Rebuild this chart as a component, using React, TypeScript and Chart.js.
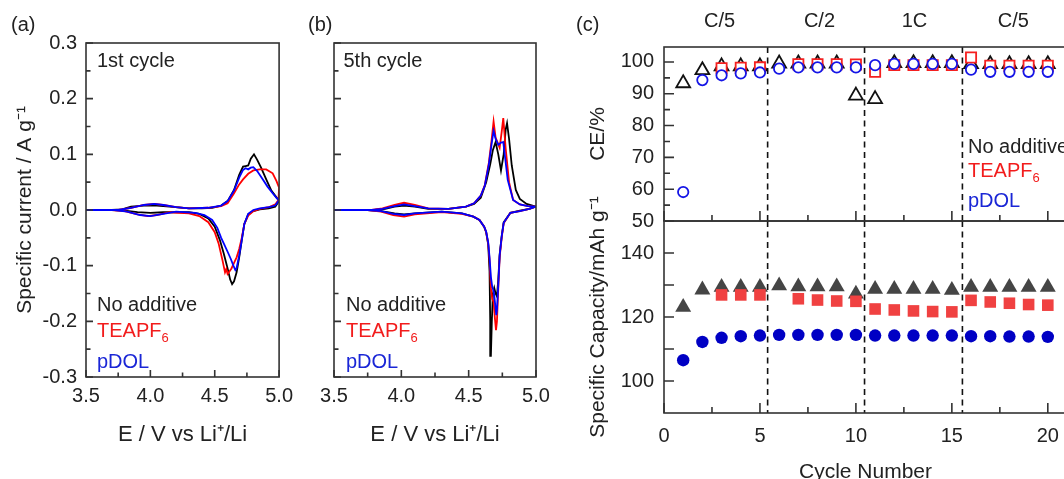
import React, { useEffect, useRef } from "react";
import { Chart, registerables } from "chart.js";

Chart.register(...registerables);

const FONT = '"Liberation Sans", Arial, Helvetica, sans-serif';
Chart.defaults.font.family = FONT;

const INK = "#222222";
const CV_BLACK = "#000000";
const CV_RED = "#ff0000";
const CV_BLUE = "#0000ff";
const TXT_RED = "#f21c1c";
const TXT_BLUE = "#1a26d6";

// ---------- Panel (a): 1st cycle CV  [E (V vs Li+/Li), I (A/g)], anodic sweep then cathodic sweep
const cv1NoAdditive: [number, number][] = [
  [3.5, 0], [3.7, 0], [3.78, 0.001], [3.85, 0.006], [3.95, 0.008], [4.05, 0.008], [4.15, 0.006], [4.3, 0.003],
  [4.4, 0.003], [4.48, 0.004], [4.55, 0.008], [4.6, 0.016], [4.65, 0.036], [4.69, 0.063], [4.72, 0.078], [4.74, 0.079],
  [4.76, 0.08], [4.78, 0.092], [4.805, 0.1], [4.83, 0.09], [4.86, 0.076], [4.9, 0.055], [4.94, 0.035], [4.975, 0.024], [5.0, 0.016],
  [4.97, 0.006], [4.92, 0.003], [4.85, 0.001], [4.8, -0.002], [4.76, -0.008], [4.73, -0.025], [4.71, -0.054], [4.69, -0.085],
  [4.67, -0.112], [4.65, -0.128], [4.635, -0.133], [4.62, -0.125], [4.6, -0.105], [4.57, -0.078], [4.54, -0.054], [4.5, -0.03],
  [4.45, -0.015], [4.38, -0.007], [4.3, -0.004], [4.1, -0.004], [4.0, -0.005], [3.9, -0.004], [3.8, -0.001], [3.7, 0], [3.5, 0],
];
const cv1TEAPF6: [number, number][] = [
  [3.5, 0], [3.75, 0], [3.85, 0.004], [3.95, 0.009], [4.03, 0.011], [4.1, 0.009], [4.2, 0.005], [4.3, 0.003], [4.45, 0.004],
  [4.55, 0.007], [4.6, 0.012], [4.65, 0.03], [4.69, 0.046], [4.72, 0.055], [4.76, 0.065], [4.8, 0.071], [4.85, 0.073],
  [4.9, 0.073], [4.95, 0.066], [4.98, 0.052], [5.0, 0.04],
  [4.995, 0.018], [4.97, 0.01], [4.92, 0.005], [4.85, 0.002], [4.8, -0.002], [4.76, -0.01], [4.73, -0.025], [4.71, -0.05],
  [4.69, -0.07], [4.67, -0.085], [4.65, -0.095], [4.63, -0.105], [4.61, -0.112], [4.6, -0.115], [4.59, -0.106], [4.58, -0.112],
  [4.56, -0.09], [4.53, -0.06], [4.5, -0.04], [4.45, -0.022], [4.38, -0.011], [4.3, -0.006], [4.15, -0.004], [4.05, -0.009],
  [3.98, -0.011], [3.9, -0.008], [3.8, -0.002], [3.7, 0], [3.5, 0],
];
const cv1pDOL: [number, number][] = [
  [3.5, 0], [3.75, 0], [3.85, 0.004], [3.95, 0.009], [4.03, 0.011], [4.1, 0.009], [4.2, 0.005], [4.3, 0.003], [4.45, 0.004],
  [4.55, 0.008], [4.6, 0.016], [4.65, 0.035], [4.69, 0.058], [4.72, 0.072], [4.74, 0.075], [4.76, 0.073], [4.78, 0.076],
  [4.8, 0.077], [4.83, 0.07], [4.87, 0.056], [4.91, 0.042], [4.95, 0.03], [4.98, 0.022], [5.0, 0.018],
  [4.97, 0.008], [4.92, 0.005], [4.85, 0.003], [4.8, 0.0], [4.76, -0.007], [4.73, -0.025], [4.71, -0.054], [4.69, -0.082],
  [4.67, -0.104], [4.66, -0.108], [4.645, -0.1], [4.625, -0.088], [4.6, -0.075], [4.57, -0.06], [4.55, -0.05], [4.52, -0.032],
  [4.48, -0.018], [4.42, -0.009], [4.35, -0.005], [4.2, -0.003], [4.1, -0.007], [4.0, -0.011], [3.92, -0.009], [3.82, -0.003],
  [3.72, 0], [3.5, 0],
];

// ---------- Panel (b): 5th cycle CV
const cv5NoAdditive: [number, number][] = [
  [3.5, 0], [3.8, 0], [3.88, 0.002], [3.95, 0.006], [4.02, 0.008], [4.1, 0.006], [4.2, 0.002], [4.35, 0.002], [4.48, 0.006],
  [4.54, 0.011], [4.59, 0.022], [4.63, 0.05], [4.66, 0.082], [4.68, 0.108], [4.7, 0.122], [4.72, 0.1], [4.74, 0.071],
  [4.76, 0.1], [4.775, 0.145], [4.785, 0.156], [4.8, 0.128], [4.82, 0.08], [4.85, 0.036], [4.88, 0.02], [4.93, 0.011], [5.0, 0.006],
  [4.95, 0.002], [4.88, -0.001], [4.81, -0.005], [4.76, -0.022], [4.745, -0.048], [4.73, -0.08], [4.72, -0.125], [4.71, -0.155],
  [4.7, -0.15], [4.69, -0.14], [4.68, -0.15], [4.672, -0.2], [4.665, -0.262], [4.66, -0.2], [4.655, -0.11], [4.645, -0.062],
  [4.63, -0.04], [4.615, -0.03], [4.58, -0.018], [4.535, -0.012], [4.45, -0.006], [4.3, -0.003], [4.1, -0.006], [4.02, -0.008],
  [3.95, -0.006], [3.85, -0.002], [3.75, 0], [3.5, 0],
];
const cv5TEAPF6: [number, number][] = [
  [3.5, 0], [3.78, 0], [3.86, 0.003], [3.95, 0.009], [4.02, 0.013], [4.1, 0.009], [4.2, 0.003], [4.35, 0.002], [4.48, 0.006],
  [4.54, 0.012], [4.59, 0.026], [4.62, 0.045], [4.65, 0.085], [4.67, 0.125], [4.685, 0.159], [4.7, 0.13], [4.73, 0.112],
  [4.745, 0.14], [4.757, 0.165], [4.775, 0.11], [4.8, 0.05], [4.83, 0.018], [4.88, 0.01], [4.94, 0.007], [5.0, 0.006],
  [4.95, 0.002], [4.88, -0.002], [4.81, -0.005], [4.76, -0.024], [4.745, -0.05], [4.73, -0.085], [4.72, -0.14], [4.71, -0.2],
  [4.703, -0.216], [4.695, -0.195], [4.685, -0.165], [4.675, -0.16], [4.665, -0.14], [4.655, -0.09], [4.645, -0.06],
  [4.63, -0.04], [4.615, -0.03], [4.58, -0.018], [4.535, -0.012], [4.45, -0.007], [4.3, -0.004], [4.1, -0.008], [4.02, -0.012],
  [3.94, -0.009], [3.85, -0.003], [3.75, 0], [3.5, 0],
];
const cv5pDOL: [number, number][] = [
  [3.5, 0], [3.78, 0], [3.86, 0.002], [3.95, 0.007], [4.02, 0.01], [4.1, 0.007], [4.2, 0.003], [4.35, 0.002], [4.48, 0.006],
  [4.54, 0.012], [4.59, 0.026], [4.62, 0.044], [4.65, 0.082], [4.67, 0.118], [4.685, 0.142], [4.7, 0.128], [4.72, 0.117],
  [4.74, 0.121], [4.757, 0.122], [4.775, 0.085], [4.79, 0.054], [4.83, 0.018], [4.88, 0.01], [4.94, 0.007], [5.0, 0.006],
  [4.95, 0.002], [4.88, -0.002], [4.81, -0.005], [4.76, -0.023], [4.745, -0.048], [4.73, -0.082], [4.72, -0.135], [4.71, -0.18],
  [4.705, -0.189], [4.697, -0.17], [4.687, -0.147], [4.675, -0.138], [4.665, -0.12], [4.655, -0.085], [4.645, -0.058],
  [4.63, -0.039], [4.615, -0.03], [4.58, -0.018], [4.535, -0.012], [4.45, -0.006], [4.3, -0.003], [4.1, -0.006], [4.02, -0.009],
  [3.94, -0.007], [3.85, -0.002], [3.75, 0], [3.5, 0],
];

// ---------- Panel (c): cycling
const cycles = [1, 2, 3, 4, 5, 6, 7, 8, 9, 10, 11, 12, 13, 14, 15, 16, 17, 18, 19, 20];
const ceNoAdditive = [93.3, 97.4, 98.6, 98.6, 98.6, 99.5, 99.5, 99.5, 99.5, 89.4, 88.3, 99.6, 99.6, 99.6, 99.6, 99.3, 99.3, 99.3, 99.3, 99.3];
const ceTEAPF6 = [null, null, 98.0, 98.2, 98.3, null, 99.3, 99.3, 99.3, 99.2, 96.9, 99.0, 99.0, 99.0, 99.0, 101.4, 98.8, 98.8, 98.8, 98.8];
const cePDOL = [59.1, 94.3, 95.8, 96.4, 96.7, 97.9, 98.3, 98.3, 98.3, 98.3, 99.0, 99.4, 99.4, 99.4, 99.4, 97.6, 96.9, 96.9, 96.9, 96.9];
const capNoAdditive = [123.1, 128.5, 129.3, 129.3, 129.3, 129.8, 129.5, 129.5, 129.5, 127.2, 128.7, 128.7, 128.7, 128.7, 128.4, 129.3, 129.3, 129.3, 129.3, 129.3];
const capTEAPF6 = [null, null, 126.9, 126.9, 126.9, null, 125.7, 125.3, 125.0, 124.9, 122.5, 122.2, 121.9, 121.7, 121.6, 125.2, 124.7, 124.3, 123.9, 123.7];
const capPDOL = [106.5, 112.2, 113.5, 114.0, 114.2, 114.4, 114.4, 114.4, 114.4, 114.4, 114.2, 114.2, 114.2, 114.2, 114.2, 114.0, 114.0, 113.9, 113.9, 113.8];
const rateLabels = ["C/5", "C/2", "1C", "C/5"];
const rateLabelX = [2.9, 8.1, 13.05, 18.2];
const rateBoundaries = [5.4, 10.45, 15.55];

// ---------- ticks
const cvXMajor = [3.5, 4.0, 4.5, 5.0];
const cvXMinor = [3.75, 4.25, 4.75];
const cvYMajor = [-0.3, -0.2, -0.1, 0, 0.1, 0.2, 0.3];
const cvYMinor = [-0.25, -0.15, -0.05, 0.05, 0.15, 0.25];
const cycXMajor = [0, 5, 10, 15, 20];
const cycXMinor = [2.5, 7.5, 12.5, 17.5];
const ceYMajor = [50, 60, 70, 80, 90, 100];
const ceYMinor = [55, 65, 75, 85, 95];
const capYLabels = [100, 120, 140];
const capYTicks = [100, 110, 120, 130, 140];

type BoxOpts = {
  xMajor?: number[]; xMinor?: number[]; yMajor?: number[]; yMinor?: number[];
  major: number; minor: number; vlines?: number[];
  topLabels?: { texts: string[]; xs: number[]; base: number };
};

function makeBox(o: BoxOpts) {
  return {
    id: "box",
    beforeDatasetsDraw(chart: any) {
      const { ctx, chartArea: a, scales } = chart;
      if (o.vlines) {
        ctx.save();
        ctx.strokeStyle = "#111";
        ctx.lineWidth = 1.6;
        ctx.setLineDash([6, 4.5]);
        for (const v of o.vlines) {
          const x = scales.x.getPixelForValue(v);
          ctx.beginPath();
          ctx.moveTo(x, a.top);
          ctx.lineTo(x, a.bottom);
          ctx.stroke();
        }
        ctx.restore();
      }
    },
    afterDatasetsDraw(chart: any) {
      const { ctx, chartArea: a, scales } = chart;
      ctx.save();
      ctx.strokeStyle = "#333";
      ctx.lineWidth = 1.6;
      ctx.setLineDash([]);
      ctx.beginPath();
      const seg = (x1: number, y1: number, x2: number, y2: number) => { ctx.moveTo(x1, y1); ctx.lineTo(x2, y2); };
      (o.yMajor || []).forEach((v) => { const y = scales.y.getPixelForValue(v); seg(a.left, y, a.left + o.major, y); });
      (o.yMinor || []).forEach((v) => { const y = scales.y.getPixelForValue(v); seg(a.left, y, a.left + o.minor, y); });
      (o.xMajor || []).forEach((v) => { const x = scales.x.getPixelForValue(v); seg(x, a.bottom, x, a.bottom - o.major); });
      (o.xMinor || []).forEach((v) => { const x = scales.x.getPixelForValue(v); seg(x, a.bottom, x, a.bottom - o.minor); });
      ctx.stroke();
      ctx.strokeRect(a.left, a.top, a.right - a.left, a.bottom - a.top);
      if (o.topLabels) {
        ctx.fillStyle = INK;
        ctx.font = `20px ${FONT}`;
        ctx.textAlign = "center";
        ctx.textBaseline = "alphabetic";
        o.topLabels.texts.forEach((t, i) => {
          ctx.fillText(t, scales.x.getPixelForValue(o.topLabels!.xs[i]), o.topLabels!.base);
        });
      }
      ctx.restore();
    },
  };
}

const fmt1 = (v: any) => (Math.abs(Number(v)) < 1e-9 ? 0 : Number(v)).toFixed(1);

function cvDataset(pts: [number, number][], color: string) {
  return {
    data: pts.map(([x, y]) => ({ x, y })),
    showLine: true,
    borderColor: color,
    backgroundColor: color,
    borderWidth: 1.8,
    pointRadius: 0,
    tension: 0,
    fill: false,
  };
}

function cycDataset(vals: (number | null)[], style: string, radius: number, border: string, fillCol: string, bw: number) {
  return {
    data: cycles.map((c, i) => ({ x: c, y: vals[i] })).filter((p) => p.y !== null),
    showLine: false,
    pointStyle: style,
    pointRadius: radius,
    pointBorderColor: border,
    pointBackgroundColor: fillCol,
    pointBorderWidth: bw,
    borderColor: border,
    backgroundColor: fillCol,
  };
}

const baseOpts = (padding: any, scales: any) => ({
  responsive: false,
  animation: false,
  events: [],
  layout: { padding },
  plugins: { legend: { display: false }, tooltip: { enabled: false } },
  scales,
});

const NOGRID = { display: false, drawTicks: false, tickLength: 0 };

function cvScales(showY: boolean, yWidth: number) {
  return {
    x: {
      type: "linear", min: 3.5, max: 5.0,
      afterBuildTicks: (s: any) => { s.ticks = cvXMajor.map((v) => ({ value: v })); },
      afterFit: (s: any) => { s.height = 102; },
      grid: NOGRID, border: { display: false },
      ticks: { autoSkip: false, maxRotation: 0, padding: 7, color: INK, font: { size: 20 }, callback: fmt1 },
      title: { display: true, text: "E / V vs Li\u207A/Li", color: INK, font: { size: 22 }, padding: { top: 0, bottom: 31 } },
    },
    y: {
      type: "linear", min: -0.3, max: 0.3,
      afterBuildTicks: (s: any) => { s.ticks = cvYMajor.map((v) => ({ value: v })); },
      afterFit: (s: any) => { s.width = yWidth; },
      grid: NOGRID, border: { display: false },
      ticks: { display: showY, autoSkip: false, padding: 9, color: INK, font: { size: 20 }, callback: fmt1 },
      title: { display: showY, text: "Specific current / A g\u207B\u00B9", color: INK, font: { size: 21 }, padding: { top: 12.4, bottom: 0 } },
    },
  };
}

function cycX(showLabels: boolean, height: number) {
  return {
    type: "linear", min: 0, max: 21,
    afterBuildTicks: (s: any) => { s.ticks = cycXMajor.map((v) => ({ value: v })); },
    afterFit: (s: any) => { s.height = height; },
    grid: NOGRID, border: { display: false },
    ticks: { display: showLabels, autoSkip: false, maxRotation: 0, padding: 11, color: INK, font: { size: 20 } },
    title: { display: showLabels, text: "Cycle Number", color: INK, font: { size: 21 }, padding: { top: 0, bottom: 15.6 } },
  };
}

const T = ({ x, base, size = 20, color = INK, children }: any) => (
  <div
    style={{
      position: "absolute", left: x, top: base - 0.8465 * size, fontSize: size, lineHeight: `${size}px`,
      color, whiteSpace: "nowrap", fontFamily: FONT,
    }}
  >
    {children}
  </div>
);
const Sub6 = () => <span style={{ fontSize: 13, position: "relative", top: 5, lineHeight: 0 }}>6</span>;

export default function App() {
  const refA = useRef<HTMLCanvasElement>(null);
  const refB = useRef<HTMLCanvasElement>(null);
  const refC1 = useRef<HTMLCanvasElement>(null);
  const refC2 = useRef<HTMLCanvasElement>(null);

  useEffect(() => {
    const charts: Chart[] = [];
    charts.push(new Chart(refA.current!, {
      type: "scatter",
      data: { datasets: [cvDataset(cv1pDOL, CV_BLUE), cvDataset(cv1TEAPF6, CV_RED), cvDataset(cv1NoAdditive, CV_BLACK)] } as any,
      options: baseOpts({ left: 0, top: 43, right: 15, bottom: 0 }, cvScales(true, 86)) as any,
      plugins: [makeBox({ xMajor: cvXMajor, xMinor: cvXMinor, yMajor: cvYMajor, yMinor: cvYMinor, major: 7, minor: 4.5 })],
    }));
    charts.push(new Chart(refB.current!, {
      type: "scatter",
      data: { datasets: [cvDataset(cv5pDOL, CV_BLUE), cvDataset(cv5TEAPF6, CV_RED), cvDataset(cv5NoAdditive, CV_BLACK)] } as any,
      options: baseOpts({ left: 0, top: 43, right: 24, bottom: 0 }, cvScales(false, 34)) as any,
      plugins: [makeBox({ xMajor: cvXMajor, xMinor: cvXMinor, yMajor: cvYMajor, yMinor: cvYMinor, major: 7, minor: 4.5 })],
    }));
    charts.push(new Chart(refC1.current!, {
      type: "scatter",
      data: {
        datasets: [
          cycDataset(cePDOL, "circle", 5.2, "#1515e6", "#ffffff", 1.8),
          cycDataset(ceTEAPF6, "rect", 7.2, "#f52020", "#ffffff", 1.8),
          cycDataset(ceNoAdditive, "triangle", 8, "#111111", "#ffffff", 1.8),
        ],
      } as any,
      options: baseOpts({ left: 0, top: 47, right: 13, bottom: 0 }, {
        x: cycX(false, 30),
        y: {
          type: "linear", min: 50, max: 104.7,
          afterBuildTicks: (s: any) => { s.ticks = ceYMajor.map((v) => ({ value: v })); },
          afterFit: (s: any) => { s.width = 104; },
          grid: NOGRID, border: { display: false },
          ticks: { autoSkip: false, padding: 10, color: INK, font: { size: 20 } },
          title: { display: true, text: "CE/%", color: INK, font: { size: 21 }, padding: { top: 25.4, bottom: 0 } },
        },
      }) as any,
      plugins: [makeBox({
        xMajor: cycXMajor, xMinor: cycXMinor, yMajor: ceYMajor, yMinor: ceYMinor, major: 10, minor: 6,
        vlines: rateBoundaries, topLabels: { texts: rateLabels, xs: rateLabelX, base: 26.7 },
      })],
    }));
    charts.push(new Chart(refC2.current!, {
      type: "scatter",
      data: {
        datasets: [
          cycDataset(capPDOL, "circle", 6.2, "#0000c4", "#0000c4", 0),
          cycDataset(capTEAPF6, "rect", 8.2, "#f04141", "#f04141", 0),
          cycDataset(capNoAdditive, "triangle", 9.2, "#454545", "#454545", 0),
        ],
      } as any,
      options: baseOpts({ left: 0, top: 30, right: 13, bottom: 0 }, {
        x: cycX(true, 87),
        y: {
          type: "linear", min: 90, max: 150,
          afterBuildTicks: (s: any) => { s.ticks = capYLabels.map((v) => ({ value: v })); },
          afterFit: (s: any) => { s.width = 104; },
          grid: NOGRID, border: { display: false },
          ticks: { autoSkip: false, padding: 10, color: INK, font: { size: 20 } },
          title: { display: true, text: "Specific Capacity/mAh g\u207B\u00B9", color: INK, font: { size: 21 }, padding: { top: 25.4, bottom: 0 } },
        },
      }) as any,
      plugins: [makeBox({ xMajor: cycXMajor, xMinor: cycXMinor, yMajor: capYTicks, major: 10, minor: 6, vlines: rateBoundaries })],
    }));
    return () => charts.forEach((c) => c.destroy());
  }, []);

  const cv = (left: number, top: number, w: number, h: number) => ({
    position: "absolute" as const, left, top, width: w, height: h,
  });

  return (
    <div style={{ position: "absolute", left: 0, top: 0, width: 1064, height: 479, overflow: "hidden", background: "#fff", fontFamily: FONT }}>
      <canvas ref={refA} width={300} height={479} style={cv(0, 0, 300, 479)} />
      <canvas ref={refB} width={260} height={479} style={cv(300, 0, 260, 479)} />
      <canvas ref={refC1} width={520} height={251} style={cv(560, 0, 520, 251)} />
      <canvas ref={refC2} width={520} height={309} style={cv(560, 191, 520, 309)} />

      <T x={11} base={31}>(a)</T>
      <T x={308} base={31}>(b)</T>
      <T x={576} base={31}>(c)</T>

      <T x={97} base={66.5}>1st cycle</T>
      <T x={343.5} base={66.5}>5th cycle</T>

      <T x={97} base={311}>No additive</T>
      <T x={97} base={336.7} color={TXT_RED}>TEAPF<Sub6 /></T>
      <T x={97} base={368.3} color={TXT_BLUE}>pDOL</T>

      <T x={346} base={311}>No additive</T>
      <T x={346} base={336.7} color={TXT_RED}>TEAPF<Sub6 /></T>
      <T x={346} base={368.3} color={TXT_BLUE}>pDOL</T>

      <T x={968} base={153.3}>No additive</T>
      <T x={968} base={176.7} color={TXT_RED}>TEAPF<Sub6 /></T>
      <T x={968} base={206.7} color={TXT_BLUE}>pDOL</T>
    </div>
  );
}
